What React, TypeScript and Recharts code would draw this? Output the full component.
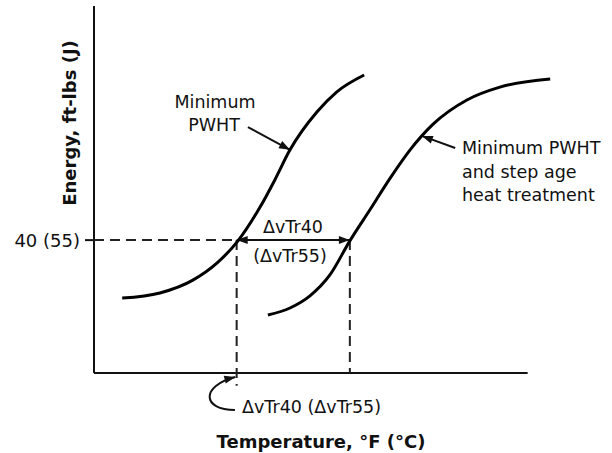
import React from "react";
import {
  LineChart,
  Line,
  XAxis,
  YAxis,
  ReferenceLine,
} from "recharts";

// schematic units (0-100 along each axis)
const tempPWHT = [6.5, 15.2, 22.8, 28.4, 33.2, 38.3, 41.7, 45.2, 51.4, 56.0, 62.3];
const energyPWHT = [20.4, 21.8, 25.3, 30.0, 36.0, 45.2, 52.6, 60.8, 71.1, 76.6, 81.2];

const tempStepAge = [40.1, 45.2, 49.8, 54.4, 59.0, 63.6, 68.3, 72.9, 78.2, 86.0, 93.6, 105.2];
const energyStepAge = [15.8, 17.7, 21.0, 26.7, 36.0, 44.4, 53.1, 60.8, 67.8, 74.4, 77.9, 80.1];

const energyLevel = 36.2;
const transPWHT = 32.9;
const transStepAge = 59.0;
const levelLabel = "40 (55)";

const pwhtData = tempPWHT.map((t, i) => ({ t, e: energyPWHT[i] }));
const stepAgeData = tempStepAge.map((t, i) => ({ t, e: energyStepAge[i] }));

const FONT = "'DejaVu Sans', Verdana, sans-serif";
const INK = "#111";

const head = (px: number, py: number, fx: number, fy: number) => {
  const dx = px - fx;
  const dy = py - fy;
  const len = Math.sqrt(dx * dx + dy * dy) || 1;
  const ux = dx / len;
  const uy = dy / len;
  const L = 11;
  const W = 4;
  const bx = px - ux * L;
  const by = py - uy * L;
  return `${px},${py} ${bx - uy * W},${by + ux * W} ${bx + uy * W},${by - ux * W}`;
};

const ArrowShape = (both: boolean) => (props: any) => {
  const { x1, y1, x2, y2 } = props;
  return (
    <g>
      <line x1={x1} y1={y1} x2={x2} y2={y2} stroke={INK} strokeWidth={2} />
      <polygon points={head(x2, y2, x1, y1)} fill={INK} />
      {both && <polygon points={head(x1, y1, x2, y2)} fill={INK} />}
    </g>
  );
};

const CurlShape = (props: any) => {
  const { x1, y1, x2, y2 } = props;
  const c1x = x1 - 33;
  const c1y = y1;
  const c2x = x2 - 35;
  const c2y = y2 + 9;
  return (
    <g>
      <path
        d={`M${x1},${y1} C${c1x},${c1y} ${c2x},${c2y} ${x2},${y2}`}
        fill="none"
        stroke={INK}
        strokeWidth={2}
      />
      <polygon points={head(x2, y2, c2x, c2y)} fill={INK} />
    </g>
  );
};

const textStyle: React.CSSProperties = { fontFamily: FONT, fontSize: 17.5, fill: INK };
const boldStyle: React.CSSProperties = { fontFamily: FONT, fontSize: 18, fontWeight: "bold", fill: INK };

export default function App() {
  return (
    <div style={{ position: "absolute", left: 0, top: 0, width: 612, height: 453, background: "#fff" }}>
      <LineChart width={612} height={453} margin={{ top: 6, right: 41, bottom: 36, left: 0 }}>
        <XAxis type="number" dataKey="t" domain={[0, 110]} allowDataOverflow hide />
        <YAxis
          type="number"
          dataKey="e"
          domain={[-12, 100]}
          allowDataOverflow
          width={94}
          axisLine={false}
          ticks={[energyLevel]}
          tickFormatter={() => levelLabel}
          tickSize={9}
          tickMargin={5}
          tickLine={{ stroke: INK, strokeWidth: 2 }}
          tick={{ fontFamily: FONT, fontSize: 18, fill: INK }}
        />
        {/* axes */}
        <ReferenceLine segment={[{ x: 0, y: 0 }, { x: 0, y: 100 }]} stroke={INK} strokeWidth={2} />
        <ReferenceLine segment={[{ x: 0, y: 0 }, { x: 100, y: 0 }]} stroke={INK} strokeWidth={2} />
        {/* dashed guides */}
        <ReferenceLine
          segment={[{ x: 0, y: energyLevel }, { x: transPWHT, y: energyLevel }]}
          stroke="#222"
          strokeWidth={2}
          strokeDasharray="10 6"
        />
        <ReferenceLine
          segment={[{ x: transPWHT, y: energyLevel }, { x: transPWHT, y: -3.5 }]}
          stroke="#222"
          strokeWidth={2}
          strokeDasharray="10 6"
        />
        <ReferenceLine
          segment={[{ x: transStepAge, y: energyLevel }, { x: transStepAge, y: 0 }]}
          stroke="#222"
          strokeWidth={2}
          strokeDasharray="10 6"
        />
        {/* shift arrow */}
        <ReferenceLine
          segment={[{ x: transPWHT, y: energyLevel }, { x: transStepAge, y: energyLevel }]}
          shape={ArrowShape(true)}
        />
        {/* callout arrows */}
        <ReferenceLine segment={[{ x: 35.5, y: 67.0 }, { x: 45.2, y: 60.8 }]} shape={ArrowShape(false)} />
        <ReferenceLine segment={[{ x: 83.3, y: 61.3 }, { x: 75.6, y: 64.6 }]} shape={ArrowShape(false)} />
        <ReferenceLine segment={[{ x: 32.5, y: -10.1 }, { x: 32.6, y: -1.1 }]} shape={CurlShape} />

        <Line
          data={pwhtData}
          dataKey="e"
          type="monotone"
          stroke="#000"
          strokeWidth={3}
          dot={false}
          isAnimationActive={false}
        />
        <Line
          data={stepAgeData}
          dataKey="e"
          type="monotone"
          stroke="#000"
          strokeWidth={3}
          dot={false}
          isAnimationActive={false}
        />
      </LineChart>
      <svg
        width={612}
        height={453}
        style={{ position: "absolute", left: 0, top: 0, pointerEvents: "none" }}
      >
        <text x={70} y={123} transform="rotate(-90 70 123)" textAnchor="middle" dy="0.35em" style={boldStyle}>
          Energy, ft-lbs (J)
        </text>
        <text x={321} y={442} textAnchor="middle" dy="0.35em" style={boldStyle}>
          Temperature, °F (°C)
        </text>
        <text x={215} y={102} textAnchor="middle" dy="0.35em" style={textStyle}>Minimum</text>
        <text x={214} y={125} textAnchor="middle" dy="0.35em" style={textStyle}>PWHT</text>
        <text x={293} y={227} textAnchor="middle" dy="0.35em" style={textStyle}>ΔvTr40</text>
        <text x={290} y={256} textAnchor="middle" dy="0.35em" style={textStyle}>(ΔvTr55)</text>
        <text x={462} y={148} dy="0.35em" style={textStyle}>Minimum PWHT</text>
        <text x={462} y={172} dy="0.35em" style={textStyle}>and step age</text>
        <text x={462} y={195} dy="0.35em" style={textStyle}>heat treatment</text>
        <text x={242} y={407} dy="0.35em" style={textStyle}>ΔvTr40 (ΔvTr55)</text>
      </svg>
    </div>
  );
}
